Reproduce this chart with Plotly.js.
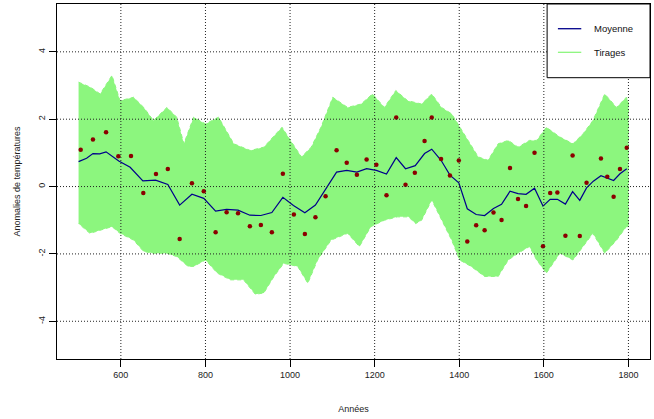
<!DOCTYPE html>
<html>
<head>
<meta charset="utf-8">
<script src="https://cdn.plot.ly/plotly-3.0.1.min.js"></script>
<style>html,body{margin:0;padding:0;background:#fff;}#chart{width:654px;height:419px;}</style>
</head>
<body>
<div id="chart"></div>
<script>
// Mean line (Moyenne)
const meanYears = [500,519,534,550,565,582,595,622,652,682,711,739,768,796,824,850,877,905,931,957,983,1008,1035,1060,1084,1110,1134,1158,1181,1204,1228,1251,1273,1296,1318,1335,1357,1378,1399,1419,1440,1460,1481,1500,1520,1539,1558,1578,1598,1615,1632,1651,1668,1685,1701,1717,1735,1750,1765,1780,1796];
const meanValues = [0.74,0.84,0.98,0.97,1.03,0.87,0.76,0.57,0.17,0.19,0.06,-0.55,-0.23,-0.35,-0.73,-0.68,-0.70,-0.85,-0.86,-0.77,-0.32,-0.56,-0.78,-0.55,-0.06,0.43,0.48,0.43,0.53,0.48,0.37,0.86,0.53,0.62,0.98,1.11,0.78,0.34,0.11,-0.66,-0.83,-0.86,-0.65,-0.53,-0.14,-0.21,-0.23,-0.05,-0.58,-0.38,-0.38,-0.52,-0.15,-0.41,-0.04,0.16,0.32,0.26,0.18,0.38,0.53];

// Observations (points)
const obsYears = [505,534,565,594,624,653,683,711,739,768,796,824,850,877,905,931,957,983,1009,1035,1060,1084,1110,1134,1158,1181,1204,1228,1251,1273,1295,1318,1335,1357,1378,1399,1419,1440,1460,1481,1500,1520,1539,1558,1578,1598,1615,1632,1651,1668,1685,1701,1735,1750,1765,1780,1796];
const obsValues = [1.09,1.40,1.61,0.90,0.91,-0.19,0.37,0.52,-1.56,0.10,-0.14,-1.36,-0.76,-0.79,-1.18,-1.14,-1.36,0.38,-0.83,-1.41,-0.91,-0.29,1.08,0.71,0.35,0.80,0.65,-0.26,2.05,0.05,0.41,1.35,2.05,0.82,0.33,0.77,-1.63,-1.15,-1.30,-0.77,-0.99,0.55,-0.37,-0.58,1.00,-1.77,-0.19,-0.18,-1.46,0.92,-1.47,0.11,0.83,0.29,-0.30,0.52,1.15];

// Envelope of the draws (Tirages)
const drawUpperYears = [500,528,551,579,598,630,654,677,709,732,749,772,800,831,867,906,938,981,1001,1027,1050,1073,1101,1136,1168,1195,1223,1250,1278,1311,1335,1358,1382,1401,1421,1445,1468,1492,1516,1539,1566,1583,1606,1638,1669,1693,1716,1744,1772,1795,1800];
const drawUpperValues = [3.1,2.95,2.75,3.3,2.55,2.65,2.35,1.96,2.35,2.06,1.27,2.06,1.86,2.06,1.27,1.07,1.17,1.76,1.37,0.88,1.17,1.76,2.65,2.35,2.45,2.75,2.35,2.85,2.55,2.45,2.75,2.35,2.16,1.76,1.37,0.88,0.78,1.27,1.37,1.17,1.37,1.37,1.76,1.47,1.27,1.57,1.96,2.75,2.35,2.65,2.5];
const drawLowerYears = [500,527,551,579,598,630,654,677,709,732,759,772,800,828,859,890,918,938,962,985,1018,1042,1065,1097,1136,1164,1191,1223,1254,1280,1297,1311,1335,1358,1382,1401,1428,1460,1492,1516,1539,1566,1583,1606,1638,1669,1693,1716,1744,1772,1795,1800];
const drawLowerValues = [-1.1,-1.39,-1.29,-1.19,-1.39,-1.59,-1.93,-1.98,-1.98,-2.08,-2.37,-2.37,-2.18,-2.57,-2.77,-2.77,-3.2,-3.16,-2.67,-2.28,-2.37,-2.87,-2.18,-1.59,-1.39,-1.78,-1.19,-1.0,-0.9,-0.9,-1.1,-1.0,-0.4,-1.0,-1.59,-2.18,-2.37,-2.67,-2.67,-2.18,-1.98,-1.78,-2.18,-2.57,-1.98,-2.18,-1.78,-1.39,-1.98,-1.59,-1.19,-1.2];

const xTicks = [600,800,1000,1200,1400,1600,1800];
const yTicks = [-4,-2,0,2,4];
const legendLabels = ["Moyenne","Tirages"];

const green = "rgb(140,246,126)";
const blue = "#00008B";
const red = "#8B0000";

const bandX = drawUpperYears.concat(drawLowerYears.slice().reverse());
const bandY = drawUpperValues.concat(drawLowerValues.slice().reverse());

const traces = [
  {x: bandX, y: bandY, type: "scatter", mode: "lines", fill: "toself",
   fillcolor: green, line: {color: green, width: 1, dash: "4px,3px"}, hoverinfo: "skip", name: "Tirages"},
  {x: meanYears, y: meanValues, type: "scatter", mode: "lines",
   line: {color: blue, width: 1.2}, name: "Moyenne"},
  {x: obsYears, y: obsValues, type: "scatter", mode: "markers",
   marker: {color: red, size: 4.5}, name: "Obs"}
];

const font = {family: "Liberation Sans, Arial, Helvetica, sans-serif", size: 9, color: "#222"};
const shapes = [];
xTicks.forEach(v => shapes.push({type: "line", xref: "x", yref: "paper", x0: v, x1: v, y0: 0, y1: 1,
  line: {color: "#222", width: 1, dash: "1px,2px"}, layer: "above"}));
yTicks.forEach(v => shapes.push({type: "line", xref: "paper", yref: "y", x0: 0, x1: 1, y0: v, y1: v,
  line: {color: "#222", width: 1, dash: "1px,2px"}, layer: "above"}));
// legend box
const lx0 = 0.8265, lx1 = 1.0, ly0 = 0.7924, ly1 = 1.0;
shapes.push({type: "rect", xref: "paper", yref: "paper", x0: lx0, x1: lx1, y0: ly0, y1: ly1,
  line: {color: "#000", width: 1}, fillcolor: "#fff", layer: "above"});
const legendColors = [blue, green];
const legendY = [0.9304, 0.8639];
const annotations = [];
legendLabels.forEach((lab, i) => {
  shapes.push({type: "line", xref: "paper", yref: "paper", x0: 0.8447, x1: 0.8841, y0: legendY[i], y1: legendY[i],
    line: {color: legendColors[i], width: 1.3}, layer: "above"});
  annotations.push({xref: "paper", yref: "paper", x: 0.9026, y: legendY[i], text: lab, showarrow: false,
    xanchor: "left", yanchor: "middle", font: {family: font.family, size: 9.5, color: "#111"}});
});

const layout = {
  width: 654, height: 419,
  margin: {l: 57, r: 4, t: 4, b: 60},
  paper_bgcolor: "#fff", plot_bgcolor: "#fff",
  showlegend: false,
  font: font,
  xaxis: {range: [449, 1851], tickvals: xTicks, ticktext: xTicks.map(String), showgrid: false, zeroline: false,
    showline: true, mirror: true, linecolor: "#000", linewidth: 1, ticks: "outside", ticklen: 7, tickcolor: "#000",
    tickfont: font, title: {text: "Années", font: font, standoff: 26}},
  yaxis: {range: [-5.12, 5.42], tickvals: yTicks, ticktext: yTicks.map(String), tickangle: -90, showgrid: false, zeroline: false,
    showline: true, mirror: true, linecolor: "#000", linewidth: 1, ticks: "outside", ticklen: 7, tickcolor: "#000",
    tickfont: font, title: {text: "Anomalies de températures", font: font, standoff: 15}},
  shapes: shapes,
  annotations: annotations
};

Plotly.newPlot("chart", traces, layout, {displayModeBar: false, staticPlot: true});
</script>
</body>
</html>
